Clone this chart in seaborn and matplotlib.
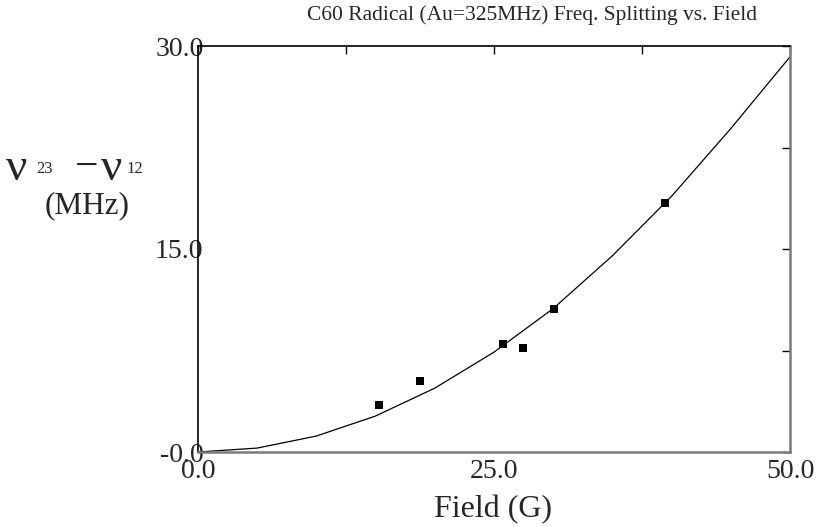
import matplotlib
matplotlib.use("Agg")
import matplotlib.pyplot as plt
import seaborn as sns
import pandas as pd

# Fitted curve
fit_field = [0, 5, 10, 15, 20, 25, 30, 35, 40, 45, 50]
fit_split = [0.0, 0.29, 1.18, 2.66, 4.72, 7.38, 10.6, 14.5, 18.9, 23.9, 29.2]

# Measured points
meas_field = [15.3, 18.75, 25.8, 27.45, 30.05, 39.45]
meas_split = [3.47, 5.27, 7.98, 7.71, 10.57, 18.43]

x_ticks = [0, 12.5, 25, 37.5, 50]
x_labels = ["0.0", "", "25.0", "", "50.0"]
y_ticks = [0, 7.5, 15, 22.5, 30]
y_labels = ["-0.0", "", "15.0", "", "30.0"]

sns.set_style("white")
plt.rcParams["font.family"] = ["Liberation Serif", "DejaVu Serif"]
plt.rcParams["mathtext.fontset"] = "stix"

fig = plt.figure(figsize=(8.19, 5.27), dpi=100)
ax = fig.add_axes([198 / 819, 1 - 452 / 527, (790 - 198) / 819, (452 - 46) / 527])

fit_df = pd.DataFrame({"field": fit_field, "split": fit_split})
meas_df = pd.DataFrame({"field": meas_field, "split": meas_split})

sns.lineplot(data=fit_df, x="field", y="split", ax=ax, color="black", linewidth=0.9,
             sort=False, estimator=None)
sns.scatterplot(data=meas_df, x="field", y="split", ax=ax, color="black", marker="s",
                s=38, edgecolor="black", linewidth=0, zorder=5)

ax.set_xlim(0, 50)
ax.set_ylim(0, 30)
ax.set_xticks(x_ticks, labels=x_labels)
ax.set_yticks(y_ticks, labels=y_labels)
ax.tick_params(axis="both", which="both", direction="in", length=6, width=1,
               color="black", labelsize=20, top=True, right=True)
ax.tick_params(axis="y", pad=-4)
ax.tick_params(axis="x", pad=5)

for side in ["top", "left"]:
    ax.spines[side].set_color("black")
    ax.spines[side].set_linewidth(1.2)
for side in ["right", "bottom"]:
    ax.spines[side].set_color("#7a7a7a")
    ax.spines[side].set_linewidth(1.8)

ax.set_xlabel("")
ax.set_ylabel("")

fig.text(532 / 819, 1 - 15 / 527, "C60 Radical (Au=325MHz) Freq. Splitting vs. Field",
         ha="center", va="center", fontsize=15.5)
fig.text(493 / 819, 1 - 510 / 527, "Field (G)", ha="center", va="center", fontsize=23)

# y-axis label: nu_23 - nu_12 / (MHz)
fig.text(6 / 819, 1 - 180 / 527, "ν", ha="left", va="baseline", fontsize=34)
fig.text(36 / 819, 1 - 173 / 527, "23", ha="left", va="baseline", fontsize=12)
fig.text(75 / 819, 1 - 178 / 527, "−", ha="left", va="baseline", fontsize=30)
fig.text(101 / 819, 1 - 180 / 527, "ν", ha="left", va="baseline", fontsize=34)
fig.text(126 / 819, 1 - 173 / 527, "12", ha="left", va="baseline", fontsize=12)
fig.text(87 / 819, 1 - 206 / 527, "(MHz)", ha="center", va="center", fontsize=22.5)

fig.savefig("out.png", dpi=100)
